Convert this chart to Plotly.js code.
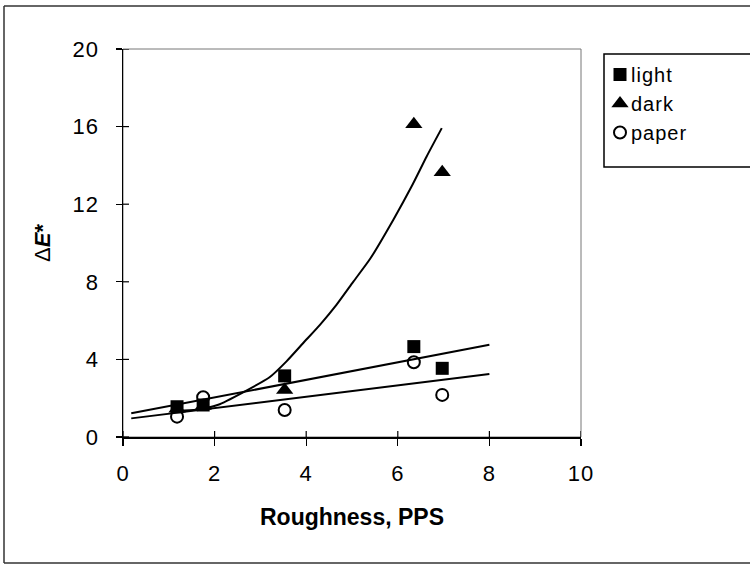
<!DOCTYPE html>
<html>
<head>
<meta charset="utf-8">
<script src="https://cdn.plot.ly/plotly-3.0.1.min.js"></script>
<style>
  html, body { margin: 0; padding: 0; background: #fff; }
  #chart { width: 750px; height: 566px; }
  /* slightly wider lettering for tick labels and legend entries */
  #chart .xtick text, #chart .ytick text, #chart .legendtext { letter-spacing: 1px; }
  /* pull legend labels closer to their symbols */
  #chart .legendtext { transform: translateX(-9px); }
</style>
</head>
<body>
<div id="chart"></div>
<script>
// Roughness (PPS) of each sample
const roughness = [1.18, 1.75, 3.53, 6.35, 6.97];

// Colour difference ΔE* for the three measurement series
const lightDE = [1.56, 1.65, 3.15, 4.66, 3.54];
const darkDE  = [1.45, 1.60, 2.42, 16.12, 13.65];
const paperDE = [1.05, 2.05, 1.39, 3.85, 2.17];

// Trend lines
const lightTrendX = [0.18, 8.0];
const lightTrendY = [1.22, 4.75];
const paperTrendX = [0.18, 8.0];
const paperTrendY = [0.96, 3.25];
const darkTrendX = [1.18, 1.60, 2.08, 2.62, 3.20, 3.57, 3.93, 4.30, 4.66, 5.03, 5.40, 5.90, 6.30, 6.63, 6.96];
const darkTrendY = [1.35, 1.40, 1.66, 2.30, 3.08, 3.90, 4.83, 5.78, 6.81, 8.01, 9.20, 11.19, 12.91, 14.46, 15.92];

// Axis ticks
const xTicks = [0, 2, 4, 6, 8, 10];
const yTicks = [0, 4, 8, 12, 16, 20];

const FONT = "Liberation Sans, Arial, Helvetica, sans-serif";

const lineStyle = { color: "#000", width: 2 };

const traces = [
  { x: lightTrendX, y: lightTrendY, mode: "lines", line: lineStyle, showlegend: false, hoverinfo: "skip" },
  { x: paperTrendX, y: paperTrendY, mode: "lines", line: lineStyle, showlegend: false, hoverinfo: "skip" },
  { x: darkTrendX, y: darkTrendY, mode: "lines", line: Object.assign({ shape: "spline", smoothing: 0.6 }, lineStyle), showlegend: false, hoverinfo: "skip" },
  { x: roughness, y: lightDE, name: "light", mode: "markers",
    marker: { symbol: "square", size: 13, color: "#000" } },
  { x: roughness, y: darkDE, name: "dark", mode: "markers",
    marker: { symbol: "triangle-up", size: 15, color: "#000" } },
  { x: roughness, y: paperDE, name: "paper", mode: "markers",
    marker: { symbol: "circle-open", size: 12, color: "#000", line: { width: 2, color: "#000" } } }
];

// paper-coordinate helpers for the plot area (l=123, t=49, w=458, h=388)
const px2x = p => (p - 123) / 458;
const px2y = p => (437 - p) / 388;

// crossing tick marks: the inner half of each tick
const innerTicks = [];
xTicks.forEach(t => innerTicks.push({
  type: "line", xref: "x", yref: "paper", x0: t, x1: t, y0: 0, y1: 6 / 388,
  line: { color: "#000", width: 1.2 }
}));
yTicks.forEach(t => innerTicks.push({
  type: "line", xref: "paper", yref: "y", x0: 0, x1: 6 / 458, y0: t, y1: t,
  line: { color: "#000", width: 1.2 }
}));

const layout = {
  width: 750,
  height: 566,
  margin: { l: 123, r: 169, t: 49, b: 129 },
  paper_bgcolor: "#fff",
  plot_bgcolor: "#fff",
  font: { family: FONT, color: "#000", size: 22 },
  showlegend: true,
  legend: {
    x: px2x(600), y: px2y(55), xanchor: "left", yanchor: "top",
    bgcolor: "rgba(0,0,0,0)", borderwidth: 0,
    font: { family: FONT, size: 20, color: "#000" },
    itemwidth: 30
  },
  xaxis: {
    range: [0, 10], tickvals: xTicks, ticktext: xTicks.map(String),
    showgrid: false, zeroline: false,
    showline: true, linecolor: "#000", linewidth: 1.5,
    ticks: "outside", ticklen: 7, tickwidth: 1.2, tickcolor: "#000",
    ticklabelstandoff: 9,
    tickfont: { family: FONT, size: 22 },
    title: { text: "<b>Roughness, PPS</b>", font: { family: FONT, size: 23 }, standoff: 24 }
  },
  yaxis: {
    range: [0, 20], tickvals: yTicks, ticktext: yTicks.map(String),
    showgrid: false, zeroline: false,
    showline: true, linecolor: "#000", linewidth: 1.5,
    ticks: "outside", ticklen: 6, tickwidth: 1.2, tickcolor: "#000",
    ticklabelstandoff: 12,
    tickfont: { family: FONT, size: 22 },
    title: { text: "Δ<b><i>E</i>*</b>", font: { family: FONT, size: 22 }, standoff: 18 }
  },
  shapes: [
    // thin frame round the plot area
    { type: "rect", xref: "paper", yref: "paper", x0: 0, x1: 1, y0: 0, y1: 1,
      line: { color: "#777", width: 1 }, layer: "below" },
    // legend box
    { type: "rect", xref: "paper", yref: "paper",
      x0: px2x(604), x1: px2x(760), y0: px2y(167), y1: px2y(54),
      line: { color: "#000", width: 1.5 } },
    // figure border (top, left, bottom)
    { type: "line", xref: "paper", yref: "paper", x0: px2x(4), x1: px2x(760), y0: px2y(6), y1: px2y(6),
      line: { color: "#333", width: 1.5 } },
    { type: "line", xref: "paper", yref: "paper", x0: px2x(4), x1: px2x(4), y0: px2y(6), y1: px2y(563),
      line: { color: "#333", width: 1.5 } },
    { type: "line", xref: "paper", yref: "paper", x0: px2x(4), x1: px2x(760), y0: px2y(563), y1: px2y(563),
      line: { color: "#333", width: 1.5 } }
  ].concat(innerTicks)
};

Plotly.newPlot("chart", traces, layout, { displayModeBar: false, staticPlot: true });
</script>
</body>
</html>
